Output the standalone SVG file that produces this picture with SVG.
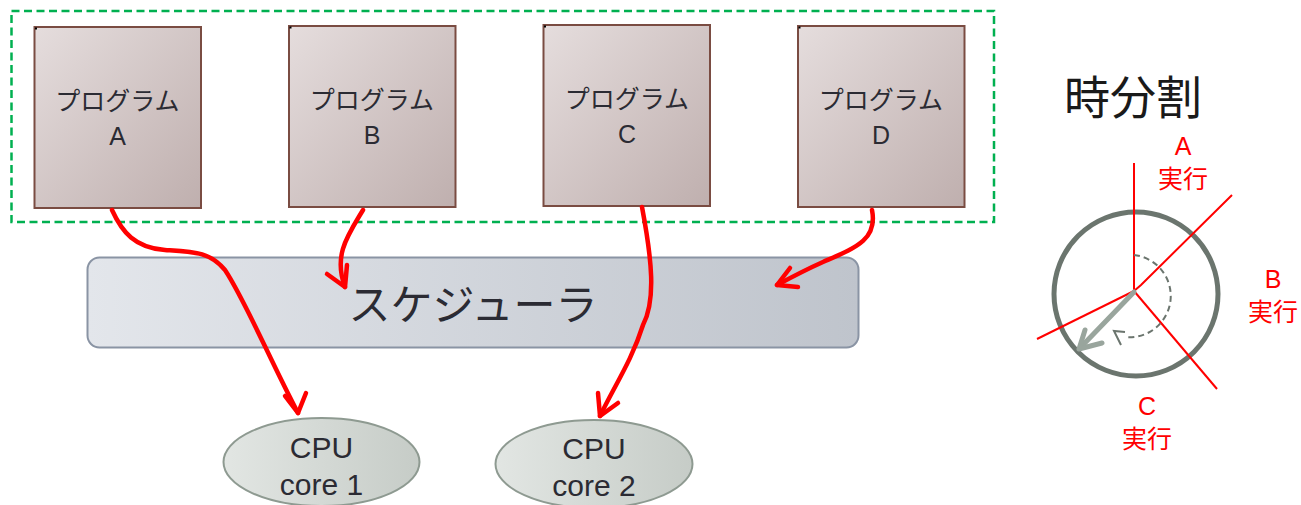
<svg xmlns="http://www.w3.org/2000/svg" width="1301" height="505" viewBox="0 0 1301 505">
  <defs>
    <linearGradient id="gProg" x1="0" y1="0" x2="1" y2="1">
      <stop offset="0" stop-color="#e5dddd"/>
      <stop offset="1" stop-color="#bfafae"/>
    </linearGradient>
    <linearGradient id="gSched" x1="0" y1="0" x2="1" y2="0">
      <stop offset="0" stop-color="#e3e6eb"/>
      <stop offset="1" stop-color="#bfc4cc"/>
    </linearGradient>
    <linearGradient id="gCore" x1="0" y1="0" x2="1" y2="0">
      <stop offset="0" stop-color="#e2e6e3"/>
      <stop offset="1" stop-color="#c6ccc7"/>
    </linearGradient>
  </defs>
  <style>
    .prog { fill: url(#gProg); stroke: #7a4c42; stroke-width: 2; }
    .lbl { font-family: "Liberation Sans", "Noto Sans CJK JP", sans-serif; fill: #2b2b33; text-anchor: middle; }
    .flow { fill: none; stroke: #ff0000; stroke-width: 4.5; stroke-linecap: round; stroke-linejoin: round; }
    .core { fill: url(#gCore); stroke: #8e9a91; stroke-width: 2; }
    .red { font-family: "Liberation Sans", "Noto Sans CJK JP", sans-serif; fill: #ff0000; text-anchor: middle; font-size: 25px; }
    .slice { fill: none; stroke: #ff0000; stroke-width: 2; }
  </style>

  <rect width="1301" height="505" fill="#ffffff"/>

  <!-- group boundary around the programs -->
  <rect x="11.5" y="11" width="982.5" height="211" fill="none" stroke="#00b050" stroke-width="2.5" stroke-dasharray="8,4.5"/>

  <g id="progA">
    <rect class="prog" x="34.5" y="27" width="166.5" height="181"/>
    <rect x="35" y="27.5" width="2" height="2" fill="#000"/>
    <text class="lbl" x="117.5" y="110" font-size="25">プログラム</text>
    <text class="lbl" x="117.5" y="145" font-size="25">A</text>
  </g>
  <g id="progB">
    <rect class="prog" x="289" y="26" width="166.5" height="181"/>
    <rect x="289.5" y="26.5" width="2" height="2" fill="#000"/>
    <text class="lbl" x="372" y="109" font-size="25">プログラム</text>
    <text class="lbl" x="372" y="144" font-size="25">B</text>
  </g>
  <g id="progC">
    <rect class="prog" x="543.5" y="25" width="166.5" height="181"/>
    <rect x="544" y="25.5" width="2" height="2" fill="#000"/>
    <text class="lbl" x="627" y="108" font-size="25">プログラム</text>
    <text class="lbl" x="627" y="143" font-size="25">C</text>
  </g>
  <g id="progD">
    <rect class="prog" x="798" y="26" width="166.5" height="181"/>
    <rect x="798.5" y="26.5" width="2" height="2" fill="#000"/>
    <text class="lbl" x="881" y="109" font-size="25">プログラム</text>
    <text class="lbl" x="881" y="144" font-size="25">D</text>
  </g>

  <g id="scheduler">
    <rect x="87.5" y="257.5" width="771" height="90" rx="12" fill="url(#gSched)" stroke="#8a94a4" stroke-width="2"/>
    <text class="lbl" x="473" y="320" font-size="42">スケジューラ</text>
  </g>

  <g id="core1">
    <ellipse class="core" cx="321.5" cy="462" rx="98" ry="44"/>
    <text class="lbl" x="321.5" y="458" font-size="30">CPU</text>
    <text class="lbl" x="321.5" y="495" font-size="30">core 1</text>
  </g>
  <g id="core2">
    <ellipse class="core" cx="594" cy="464" rx="98.5" ry="44"/>
    <text class="lbl" x="594" y="459" font-size="30">CPU</text>
    <text class="lbl" x="594" y="496" font-size="30">core 2</text>
  </g>

  <g id="connectors">
    <!-- A to core 1 -->
    <path class="flow" d="M112,210 C122,232 135,248 165,250 C195,252 210,252 225,270 C245,300 270,360 298,413"/>
    <path class="flow" d="M285,396 L298,413 L306,393"/>
    <!-- B to scheduler -->
    <path class="flow" d="M363,210 C348,235 333,255 345,287"/>
    <path class="flow" d="M327,274 L345,287 L347,265"/>
    <!-- C to core 2 -->
    <path class="flow" d="M642,207 C652,260 656,300 643,325 C632,360 615,385 600,416"/>
    <path class="flow" d="M598,393 L600,416 L618,403"/>
    <!-- D to scheduler -->
    <path class="flow" d="M872,210 C878,240 855,248 823,262 C805,270 790,278 777,285"/>
    <path class="flow" d="M790,268 L777,285 L798,287"/>
  </g>

  <!-- time slicing figure -->
  <g id="timeslice">
    <text x="1133" y="114" font-family="Liberation Sans, Noto Sans CJK JP, sans-serif" font-size="46" fill="#1a1a1a" text-anchor="middle">時分割</text>
    <circle cx="1136" cy="294" r="82" fill="none" stroke="#6b756e" stroke-width="5"/>
    <line class="slice" x1="1134" y1="163" x2="1134" y2="291"/>
    <polyline class="slice" points="1134,291 1141,285 1232,195"/>
    <line class="slice" x1="1134" y1="291" x2="1037" y2="339"/>
    <line class="slice" x1="1134" y1="291" x2="1217" y2="389"/>
    <!-- rotation hint -->
    <path d="M1134,255 A41,41 0 1 1 1125,337" fill="none" stroke="#6b756e" stroke-width="2" stroke-dasharray="6,4"/>
    <path d="M1125,332 L1114,331 L1121,345" fill="none" stroke="#6b756e" stroke-width="2"/>
    <!-- current pointer -->
    <line x1="1134" y1="292" x2="1080" y2="348" stroke="#99a59d" stroke-width="5" stroke-linecap="round"/>
    <path d="M1085,330 L1079,349 L1102,343" fill="none" stroke="#99a59d" stroke-width="5" stroke-linecap="round" stroke-linejoin="round"/>
    <text class="red" x="1183" y="155">A</text>
    <text class="red" x="1183" y="188">実行</text>
    <text class="red" x="1273" y="288">B</text>
    <text class="red" x="1273" y="321">実行</text>
    <text class="red" x="1147" y="415">C</text>
    <text class="red" x="1147" y="448">実行</text>
  </g>
</svg>
